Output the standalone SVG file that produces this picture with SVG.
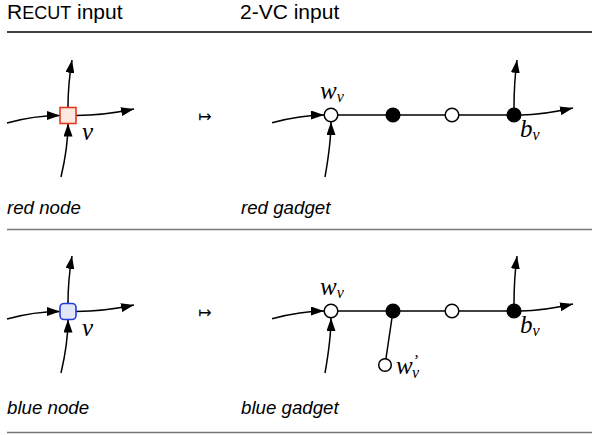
<svg xmlns="http://www.w3.org/2000/svg" width="592" height="435" viewBox="0 0 592 435">
<defs>
<marker id="ah" markerWidth="13" markerHeight="9" refX="13" refY="4.5" orient="auto" markerUnits="userSpaceOnUse">
<path d="M0,0 L13,4.5 L0,9 Z" fill="#000"/>
</marker>
<style>
.hd{font-family:"Liberation Sans",Arial,sans-serif;font-size:21px;fill:#000}
.cap{font-size:18px}
.it{font-family:"Liberation Sans",Arial,sans-serif;font-size:18.7px;font-style:italic;fill:#000}
.m{font-family:"Liberation Serif","Times New Roman",serif;font-style:italic;font-size:25px;fill:#000}
.sub{font-size:16px}
.pr{font-size:16px}
.e{fill:none;stroke:#000;stroke-width:1.5;marker-end:url(#ah)}
.ln{stroke:#000;stroke-width:1.5;fill:none}
.wh{fill:#fff;stroke:#000;stroke-width:1.5}
.bk{fill:#000;stroke:#000;stroke-width:1.5}
.mt{font-family:"DejaVu Sans",sans-serif;font-size:16px;fill:#000}
</style>
</defs>
<rect width="592" height="435" fill="#fff"/>
<g id="header">
<text class="hd" x="7" y="18.5">R<tspan class="cap">ECUT</tspan> input</text>
<text class="hd" x="240" y="18.5">2-VC input</text>
<line x1="7" y1="32" x2="592" y2="32" stroke="#000" stroke-width="1.5"/>
</g>
<g id="connectors">
<path class="e" d="M68,107.5 C68,90 69.5,75 72,60"/>
<path class="e" d="M7,123 C25,118 40,115.5 60,115.5"/>
<path class="e" d="M76,115.5 C100,115.5 115,113 134,109"/>
<path class="e" d="M61,177 C65,160 68,140 68,123.5"/>
<line class="ln" x1="331" y1="115" x2="514" y2="115"/>
<path class="e" d="M272,122.7 C290,118 305,115 324,115"/>
<path class="e" d="M325,177 C328,160 331,140 331,122"/>
<path class="e" d="M514,108 C514,90 515,75 517,60"/>
<path class="e" d="M521,115 C540,115 555,112 573,108"/>
<path class="e" d="M68,303.5 C68,286 69.5,271 72,256"/>
<path class="e" d="M7,319 C25,314 40,311.5 60,311.5"/>
<path class="e" d="M76,311.5 C100,311.5 115,309 134,305"/>
<path class="e" d="M61,373 C65,356 68,336 68,319.5"/>
<line class="ln" x1="331" y1="311" x2="514" y2="311"/>
<line class="ln" x1="393" y1="311" x2="385" y2="365"/>
<path class="e" d="M272,318.7 C290,314 305,311 324,311"/>
<path class="e" d="M325,373 C328,356 331,336 331,318"/>
<path class="e" d="M514,304 C514,286 515,271 517,256"/>
<path class="e" d="M521,311 C540,311 555,308 573,304"/>
</g>
<g id="red-node">
<rect x="60" y="107.5" width="16" height="16" fill="#fde8e1" stroke="#e5391f" stroke-width="1.6"/>
<text class="m" x="82" y="140">v</text>
</g>
<text class="mt" x="205" y="121.5" text-anchor="middle">↦</text>
<g id="red-gadget">
<circle class="wh" cx="331" cy="115" r="6.8"/>
<circle class="bk" cx="393" cy="115" r="6.8"/>
<circle class="wh" cx="452" cy="115" r="6.8"/>
<circle class="bk" cx="514" cy="115" r="6.8"/>
<text class="m" x="320" y="98.5">w<tspan class="sub" dy="3">v</tspan></text>
<text class="m" x="520" y="137">b<tspan class="sub" dy="3">v</tspan></text>
</g>
<g id="red-captions">
<text class="it" x="7" y="213.5">red node</text>
<text class="it" x="241" y="213.5">red gadget</text>
<line x1="7" y1="229.5" x2="592" y2="229.5" stroke="#777" stroke-width="1.5"/>
</g>
<g id="blue-node">
<rect x="60" y="303.5" width="16" height="16" rx="4" fill="#e3e6f7" stroke="#1f3fdc" stroke-width="1.6"/>
<text class="m" x="82" y="336">v</text>
</g>
<text class="mt" x="205" y="317.5" text-anchor="middle">↦</text>
<g id="blue-gadget">
<circle class="wh" cx="331" cy="311" r="6.8"/>
<circle class="bk" cx="393" cy="311" r="6.8"/>
<circle class="wh" cx="452" cy="311" r="6.8"/>
<circle class="bk" cx="514" cy="311" r="6.8"/>
<circle class="wh" cx="385" cy="365" r="6.3"/>
<text class="m" x="320" y="294.5">w<tspan class="sub" dy="3">v</tspan></text>
<text class="m" x="520" y="333">b<tspan class="sub" dy="3">v</tspan></text>
<text class="m" x="396" y="374">w<tspan class="pr" dx="0" dy="-8">’</tspan><tspan class="sub" x="412" dy="12">v</tspan></text>
</g>
<g id="blue-captions">
<text class="it" x="7" y="413.5">blue node</text>
<text class="it" x="241" y="413.5">blue gadget</text>
<line x1="7" y1="432.5" x2="592" y2="432.5" stroke="#777" stroke-width="1.5"/>
</g>
</svg>
